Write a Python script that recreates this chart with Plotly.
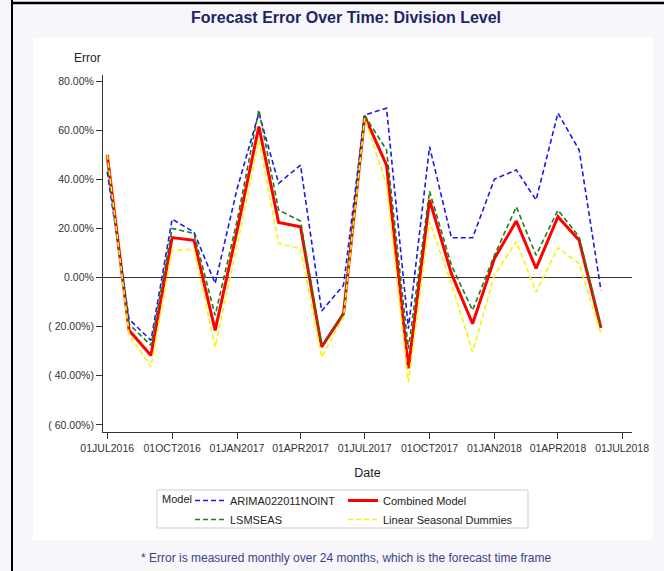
import plotly.graph_objects as go

dates = ["2016-07-01", "2016-08-01", "2016-09-01", "2016-10-01", "2016-11-01", "2016-12-01",
         "2017-01-01", "2017-02-01", "2017-03-01", "2017-04-01", "2017-05-01", "2017-06-01",
         "2017-07-01", "2017-08-01", "2017-09-01", "2017-10-01", "2017-11-01", "2017-12-01",
         "2018-01-01", "2018-02-01", "2018-03-01", "2018-04-01", "2018-05-01", "2018-06-01"]

arima = [43, -17, -25.6, 23.8, 18.5, -2.4, 36, 67, 38.4, 45.8, -13.6, -3.1,
         66.2, 69, -20.8, 53.3, 16.2, 16.2, 40.1, 43.8, 31.6, 67, 52, -5.2]
lsmseas = [47, -19, -27.6, 20, 18, -15.4, 23, 68.3, 27.5, 23, -27.6, -14.7,
           66, 52, -29, 35.2, 5, -13.3, 9.1, 28.8, 9.1, 27.5, 16.6, -20]
combined = [50, -21.5, -31.7, 16.3, 15.2, -21.5, 19, 61.5, 22.4, 20.7, -28.3, -14.7,
            65.6, 45.8, -37, 31.6, 1.6, -18.8, 7.8, 23, 3.7, 24.8, 15.2, -20.5]
linear = [50, -23, -36.4, 11.2, 11.5, -28.3, 13, 56, 13.9, 11.8, -32.4, -16,
          65, 37.7, -42.6, 22.7, -2.4, -30.3, 1, 14.6, -5.8, 12.1, 5.7, -22.8]

y_tickvals = [-60, -40, -20, 0, 20, 40, 60, 80]
y_ticktext = ["( 60.00%)", "( 40.00%)", "( 20.00%)", "0.00%", "20.00%", "40.00%", "60.00%", "80.00%"]
x_tickvals = ["2016-07-01", "2016-10-01", "2017-01-01", "2017-04-01", "2017-07-01",
              "2017-10-01", "2018-01-01", "2018-04-01", "2018-07-01"]
x_ticktext = ["01JUL2016", "01OCT2016", "01JAN2017", "01APR2017", "01JUL2017",
              "01OCT2017", "01JAN2018", "01APR2018", "01JUL2018"]

FONT = "Liberation Sans, Arial, sans-serif"

fig = go.Figure()
fig.add_trace(go.Scatter(x=dates, y=combined, mode="lines", name="Combined Model",
                         line=dict(color="#ff0000", width=3), legend="legend2", legendrank=1))
fig.add_trace(go.Scatter(x=dates, y=arima, mode="lines", name="ARIMA022011NOINT",
                         line=dict(color="#1a1aee", width=1.6, dash="5px,3px"), legend="legend", legendrank=1))
fig.add_trace(go.Scatter(x=dates, y=lsmseas, mode="lines", name="LSMSEAS",
                         line=dict(color="#1e7d1e", width=1.6, dash="5px,3px"), legend="legend", legendrank=2))
fig.add_trace(go.Scatter(x=dates, y=linear, mode="lines", name="Linear Seasonal Dummies",
                         line=dict(color="#f5f500", width=1.6, dash="5px,3px"), legend="legend2", legendrank=2))

L, R, T, B = 103, 32, 75, 139
W, H = 664, 571
pw, ph = W - L - R, H - T - B

def px(x):
    return (x - L) / pw

def py(y):
    return (H - B - y) / ph

shapes = [
    dict(type="rect", xref="paper", yref="paper", x0=px(33), x1=px(653), y0=py(540), y1=py(38),
         fillcolor="white", line=dict(width=0), layer="below"),
    dict(type="rect", xref="paper", yref="paper", x0=px(157), x1=px(528), y0=py(528), y1=py(490),
         fillcolor="white", line=dict(color="#cfcfcf", width=1), layer="below"),
    dict(type="line", xref="paper", yref="paper", x0=px(12), x1=px(12), y0=py(0), y1=py(571),
         line=dict(color="black", width=2)),
    dict(type="line", xref="paper", yref="paper", x0=px(12), x1=px(664), y0=py(3), y1=py(3),
         line=dict(color="black", width=2.5)),
]

annotations = [
    dict(text="<b>Forecast Error Over Time: Division Level</b>", x=px(346), y=py(18),
         xref="paper", yref="paper", showarrow=False, xanchor="center", yanchor="middle",
         font=dict(family="Liberation Sans Narrow, Arial Narrow, sans-serif", size=16, color="#1c2566")),
    dict(text="Error", x=px(87), y=py(58), xref="paper", yref="paper", showarrow=False,
         xanchor="center", yanchor="middle", font=dict(family=FONT, size=12, color="#222")),
    dict(text="Model", x=px(160), y=py(499), xref="paper", yref="paper", showarrow=False,
         xanchor="left", yanchor="middle", font=dict(family=FONT, size=11, color="#222")),
    dict(text="* Error is measured monthly over 24 months, which is the forecast time frame",
         x=px(346), y=py(558), xref="paper", yref="paper", showarrow=False,
         xanchor="center", yanchor="middle", font=dict(family=FONT, size=12, color="#3f3f85")),
]

leg_common = dict(
    orientation="v", xanchor="left", yanchor="top",
    bgcolor="rgba(0,0,0,0)", borderwidth=0,
    font=dict(family=FONT, size=11, color="#222"),
    itemwidth=30, tracegroupgap=0,
)

fig.update_layout(
    width=W, height=H,
    margin=dict(l=L, r=R, t=T, b=B, autoexpand=False),
    paper_bgcolor="#f6f6fb",
    plot_bgcolor="white",
    showlegend=True,
    legend=dict(x=px(190), y=py(486), **leg_common),
    legend2=dict(x=px(343), y=py(486), **leg_common),
    xaxis=dict(
        type="date", range=["2016-06-25", "2018-07-15"],
        tickvals=x_tickvals, ticktext=x_ticktext,
        showgrid=False, zeroline=False, showline=True, linecolor="#333", linewidth=1,
        ticks="outside", ticklen=6, tickcolor="#333",
        tickfont=dict(family=FONT, size=10.5, color="#333"),
        title=dict(text="Date", font=dict(family=FONT, size=12.5, color="#222"), standoff=15),
    ),
    yaxis=dict(
        range=[-62.9, 82.5], tickvals=y_tickvals, ticktext=y_ticktext,
        showgrid=False, zeroline=True, zerolinecolor="#333", zerolinewidth=1,
        showline=True, linecolor="#333", linewidth=1,
        ticks="outside", ticklen=6, tickcolor="#333",
        tickfont=dict(family=FONT, size=10.5, color="#333"),
    ),
    shapes=shapes,
    annotations=annotations,
)

fig.write_html("out.html", config={"displayModeBar": False},
               post_script="document.body.style.margin='0';document.body.style.overflow='hidden';")
